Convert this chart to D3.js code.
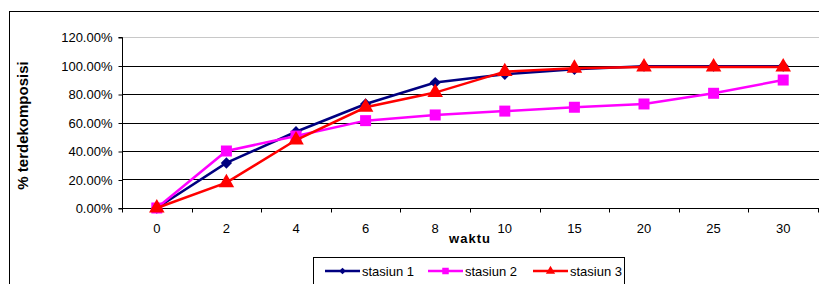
<!DOCTYPE html>
<html>
<head>
<meta charset="utf-8">
<script src="https://cdn.jsdelivr.net/npm/d3@7"></script>
<style>
  body { margin: 0; background: #fff; }
  svg { display: block; font-family: Arial, "Liberation Sans", sans-serif; }
</style>
</head>
<body>
<div id="chart"></div>
<script>
// data
const waktu = ["0", "2", "4", "6", "8", "10", "15", "20", "25", "30"];
const stasiun1 = [0, 0.316, 0.535, 0.73, 0.88, 0.938, 0.973, 0.995, 0.995, 0.995];
const stasiun2 = [0, 0.40, 0.505, 0.613, 0.653, 0.68, 0.707, 0.73, 0.805, 0.898];
const stasiun3 = [0, 0.178, 0.477, 0.707, 0.81, 0.957, 0.98, 0.99, 0.99, 0.99];
const yTicks = [0, 0.2, 0.4, 0.6, 0.8, 1.0, 1.2];

// diamond = square turned 45 degrees, like Excel draws it
const series = [
  { name: "stasiun 1", values: stasiun1, color: "#000080", shape: d3.symbolSquare, size: 64, rot: 45 },
  { name: "stasiun 2", values: stasiun2, color: "#ff00ff", shape: d3.symbolSquare, size: 121, rot: 0 },
  { name: "stasiun 3", values: stasiun3, color: "#ff0000", shape: d3.symbolTriangle, size: 105, rot: 0 }
];

const width = 819, height = 284;
const plot = { left: 122, right: 818, top: 37, bottom: 208 };

const svg = d3.select("#chart").append("svg")
  .attr("width", width)
  .attr("height", height);

// outer chart border (runs off the right and bottom edges)
svg.append("rect")
  .attr("x", 9.5).attr("y", 11.5)
  .attr("width", 830).attr("height", 300)
  .attr("fill", "none").attr("stroke", "#000");

const x = d3.scaleBand().domain(waktu).range([plot.left, plot.right]);
const y = d3.scaleLinear().domain([0, 1.2]).range([plot.bottom, plot.top]);
const cx = d => x(d) + x.bandwidth() / 2;

// gridlines
svg.append("g")
  .selectAll("line")
  .data(yTicks.filter(d => d > 0))
  .join("line")
  .attr("x1", plot.left).attr("x2", plot.right + 1)
  .attr("y1", d => Math.round(y(d)) + 0.5)
  .attr("y2", d => Math.round(y(d)) + 0.5)
  .attr("stroke", d => d === 1.2 ? "#c8c8c8" : "#000");

// y axis
const yAxis = svg.append("g")
  .attr("transform", `translate(${plot.left + 0.5},0.5)`)
  .call(d3.axisLeft(y).tickValues(yTicks).tickFormat(d3.format(".2%")).tickSize(4).tickPadding(8));
yAxis.selectAll("text").attr("font-size", 13).attr("fill", "#000").attr("font-family", null).attr("dx", 2);
yAxis.selectAll("line, path").attr("stroke", "#000");
yAxis.select(".domain").attr("d", `M-4,${Math.round(y(1.2))}H0V${Math.round(y(0))}H-4`);

// x axis, ticks between categories
const xAxis = svg.append("g")
  .attr("transform", `translate(0,${plot.bottom + 0.5})`);
xAxis.append("line")
  .attr("x1", plot.left).attr("x2", plot.right + 1)
  .attr("stroke", "#000");
xAxis.selectAll(".tk")
  .data(waktu.concat(["end"]))
  .join("line")
  .attr("class", "tk")
  .attr("x1", (d, i) => Math.round(plot.left + i * x.bandwidth()) + 0.5)
  .attr("x2", (d, i) => Math.round(plot.left + i * x.bandwidth()) + 0.5)
  .attr("y1", 0).attr("y2", 4)
  .attr("stroke", "#000");
xAxis.selectAll(".lbl")
  .data(waktu)
  .join("text")
  .attr("class", "lbl")
  .attr("x", cx)
  .attr("y", 24)
  .attr("text-anchor", "middle")
  .attr("font-size", 13)
  .text(d => d);

// axis titles
svg.append("text")
  .attr("x", (plot.left + plot.right) / 2)
  .attr("y", 243)
  .attr("text-anchor", "middle")
  .attr("font-size", 13)
  .attr("font-weight", "bold")
  .attr("letter-spacing", 1)
  .text("waktu");

svg.append("text")
  .attr("transform", `translate(28,${(plot.top + plot.bottom) / 2 + 3}) rotate(-90)`)
  .attr("text-anchor", "middle")
  .attr("font-size", 15)
  .attr("font-weight", "bold")
  .text("% terdekomposisi");

// lines and markers
const line = d3.line()
  .x((d, i) => cx(waktu[i]))
  .y(d => y(d));

series.forEach(s => {
  const g = svg.append("g");
  g.append("path")
    .attr("d", line(s.values))
    .attr("fill", "none")
    .attr("stroke", s.color)
    .attr("stroke-width", 2.5);
  g.selectAll("path.m")
    .data(s.values)
    .join("path")
    .attr("class", "m")
    .attr("transform", (d, i) => `translate(${cx(waktu[i])},${y(d)}) rotate(${s.rot})`)
    .attr("d", d3.symbol().type(s.shape).size(s.size))
    .attr("fill", s.color);
});

// legend
const legend = svg.append("g");
legend.append("rect")
  .attr("x", 313.5).attr("y", 257.5)
  .attr("width", 311).attr("height", 30)
  .attr("fill", "#fff").attr("stroke", "#000");

const legendX = [325, 428, 533];
series.forEach((s, i) => {
  const lg = legend.append("g").attr("transform", `translate(${legendX[i]},271)`);
  lg.append("line")
    .attr("x1", 0).attr("x2", 35)
    .attr("stroke", s.color).attr("stroke-width", 2.5);
  lg.append("path")
    .attr("transform", `translate(17.5,0) rotate(${s.rot})`)
    .attr("d", d3.symbol().type(s.shape).size(s.size * 0.35))
    .attr("fill", s.color);
  lg.append("text")
    .attr("x", 37).attr("y", 4.5)
    .attr("font-size", 13)
    .text(s.name);
});
</script>
</body>
</html>
